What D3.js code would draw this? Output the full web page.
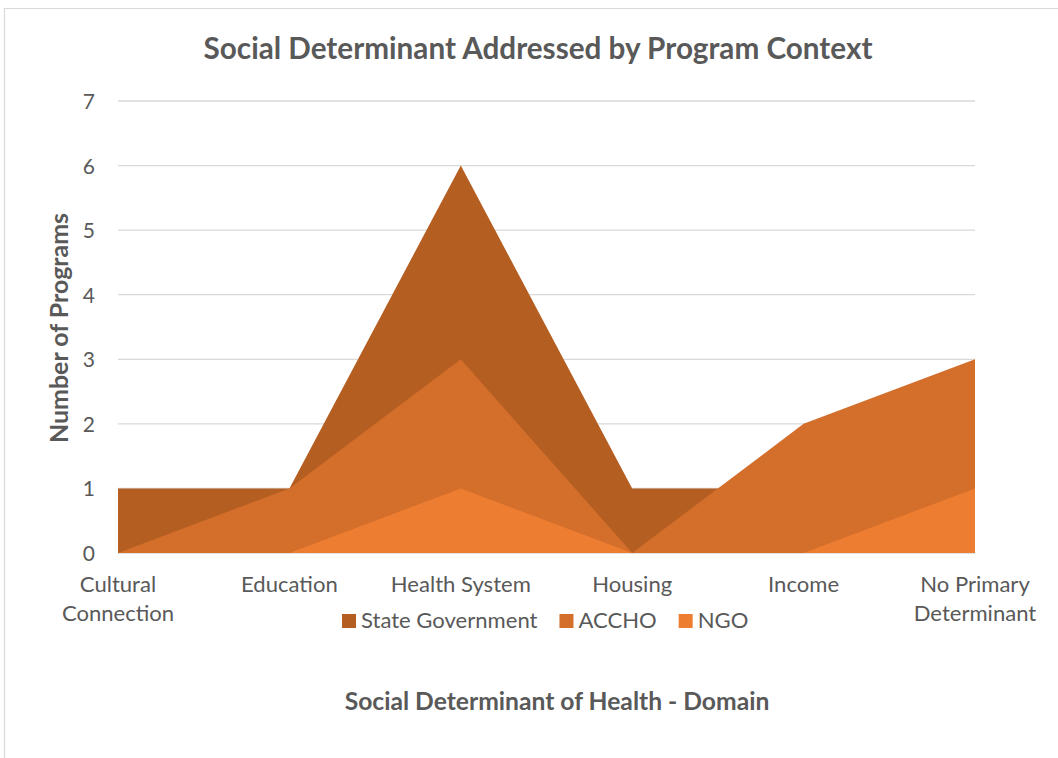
<!DOCTYPE html>
<html>
<head>
<meta charset="utf-8">
<script src="https://cdn.jsdelivr.net/npm/d3@7"></script>
<style>
  body { margin: 0; background: #fff; }
  svg { display: block; font-family: Lato, "Open Sans", sans-serif; }
</style>
</head>
<body>
<svg id="chart" width="1058" height="758"></svg>
<script>
const categories = [["Cultural", "Connection"], ["Education"], ["Health System"], ["Housing"], ["Income"], ["No Primary", "Determinant"]];
const seriesNames = ["State Government", "ACCHO", "NGO"];
const stateGov = [1, 1, 6, 1, 1, 1];
const accho = [0, 1, 3, 0, 2, 3];
const ngo = [0, 0, 1, 0, 0, 1];
const yTicks = [0, 1, 2, 3, 4, 5, 6, 7];
const colors = ["#B55E22", "#D36E2B", "#ED7D31"];

const svg = d3.select("#chart");
const W = 1058, H = 758;
const plot = { left: 118, right: 975, top: 101, bottom: 553 };
const textColor = "#595959";

// scale font size so that text has a target width
function fit(sel, width) {
  const node = sel.node();
  const fs = parseFloat(sel.style("font-size"));
  const w = node.getComputedTextLength();
  sel.style("font-size", (fs * width / w).toFixed(2) + "px");
  return sel;
}

// chart border
svg.append("path").attr("d", `M4.5,${H} L4.5,8.5 L${W},8.5`)
  .attr("fill", "none").attr("stroke", "#d9d9d9").attr("stroke-width", 1.2);

const x = d3.scalePoint().domain(d3.range(categories.length)).range([plot.left, plot.right]);
const y = d3.scaleLinear().domain([0, 7]).range([plot.bottom, plot.top]);

// gridlines
svg.append("g").selectAll("line").data(yTicks).join("line")
  .attr("x1", plot.left).attr("x2", plot.right)
  .attr("y1", d => y(d)).attr("y2", d => y(d))
  .attr("stroke", "#d9d9d9").attr("stroke-width", 1.3);

// areas
const area = d3.area().x((d, i) => x(i)).y0(y(0)).y1(d => y(d));
[stateGov, accho, ngo].forEach((s, k) => {
  svg.append("path").attr("d", area(s)).attr("fill", colors[k]);
});

// y axis labels
const yAxis = d3.axisLeft(y).tickValues(yTicks).tickFormat(d3.format("d")).tickSize(0).tickPadding(0);
const gy = svg.append("g").attr("transform", `translate(95,0)`).call(yAxis);
gy.select(".domain").remove();
gy.selectAll("text").attr("fill", textColor).style("font-size", "21px").style("font-family", "Lato, sans-serif").attr("dy", "0.36em");

// x category labels
const gx = svg.append("g");
categories.forEach((c, i) => {
  const t = gx.append("text").attr("x", x(i)).attr("y", 592)
    .attr("text-anchor", "middle").attr("fill", textColor).style("font-size", "20px");
  c.forEach((line, j) => t.append("tspan").attr("x", x(i)).attr("dy", j === 0 ? 0 : 29).text(line));
  if (i === 2) fit(t, 140);
});
const catFs = gx.selectAll("text").filter((d, i) => i === 2).style("font-size");
gx.selectAll("text").style("font-size", catFs);

// title
fit(svg.append("text").attr("x", 538).attr("y", 59).attr("text-anchor", "middle")
  .attr("fill", textColor).style("font-size", "26px").style("font-weight", "bold")
  .text("Social Determinant Addressed by Program Context"), 669);

// axis titles
fit(svg.append("text").attr("transform", "translate(68,328) rotate(-90)").attr("text-anchor", "middle")
  .attr("fill", textColor).style("font-size", "20px").style("font-weight", "bold")
  .text("Number of Programs"), 230);
fit(svg.append("text").attr("x", 557).attr("y", 710).attr("text-anchor", "middle")
  .attr("fill", textColor).style("font-size", "20px").style("font-weight", "bold")
  .text("Social Determinant of Health - Domain"), 425);

// legend
const lg = svg.append("g");
let lx = 342;
seriesNames.forEach((n, i) => {
  lg.append("rect").attr("x", lx).attr("y", 614).attr("width", 14).attr("height", 14).attr("fill", colors[i]);
  const t = lg.append("text").attr("x", lx + 19).attr("y", 628).attr("fill", textColor)
    .style("font-size", catFs).text(n);
  lx = lx + 19 + t.node().getComputedTextLength() + 22;
});
</script>
</body>
</html>
